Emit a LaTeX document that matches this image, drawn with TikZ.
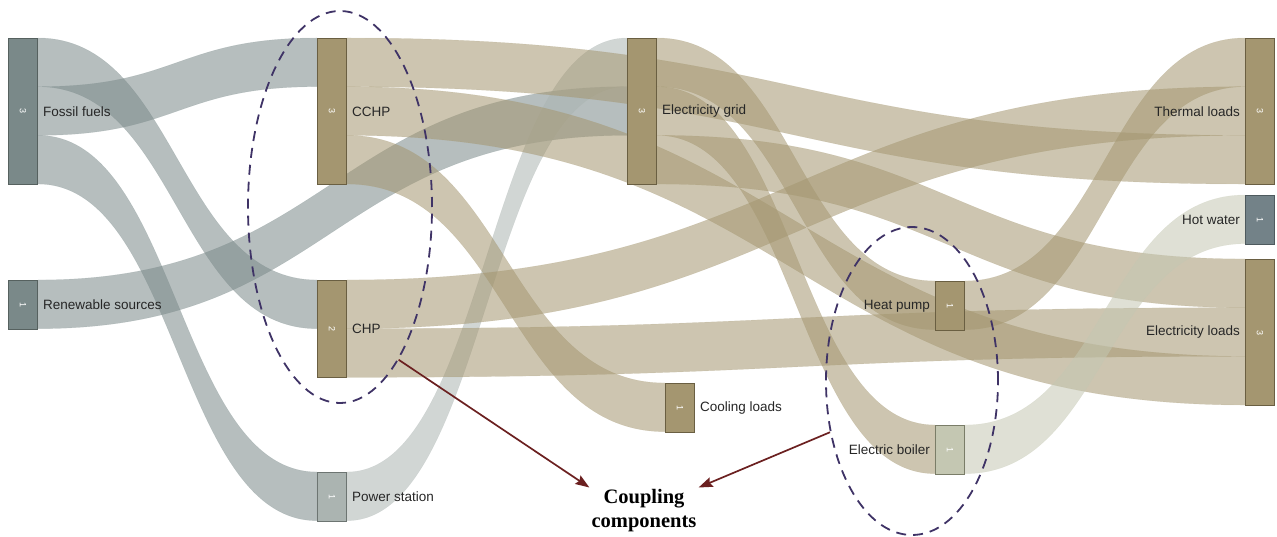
\documentclass[tikz,border=0pt]{standalone}
\usepackage{fontspec}
\setmainfont{Liberation Sans}
\newfontfamily\captionserif{Liberation Serif}
\usetikzlibrary{calc,arrows.meta,shapes.geometric,backgrounds}

\definecolor{fossil}{HTML}{7A8989}
\definecolor{fossilline}{HTML}{56615F}
\definecolor{plant}{HTML}{A49670}
\definecolor{plantline}{HTML}{6A5F42}
\definecolor{station}{HTML}{ABB4B1}
\definecolor{stationline}{HTML}{6D7572}
\definecolor{boiler}{HTML}{C4C7B2}
\definecolor{boilerline}{HTML}{7A7D68}
\definecolor{water}{HTML}{738288}
\definecolor{waterline}{HTML}{4E5A5E}
\definecolor{ringc}{HTML}{3F3366}
\definecolor{arrowc}{HTML}{6B2020}
\definecolor{labelc}{HTML}{262626}

\def\unitw{48.67}

\tikzset{
  bar/.style={rectangle, minimum width=29pt, minimum height=#1*\unitw pt, inner sep=0pt,
    anchor=north west, line width=1pt, text=white, font=\fontsize{9}{9}\selectfont},
  lbl/.style={font=\fontsize{13.5}{16}\selectfont, text=labelc, inner sep=1pt},
  link/.style={fill=#1, fill opacity=0.55, draw=#1, draw opacity=0.25, line width=0.4pt},
  ring/.style={ellipse, draw=ringc, dash pattern=on 10pt off 7pt, line width=1.8pt, inner sep=0pt},
  pointer/.style={draw=arrowc, line width=1.7pt, -{Stealth[length=14pt,width=10pt,inset=2pt]}}
}

% band from slot #2 of node #1 to slot #4 of node #3
\newcommand{\flowband}[5]{%
  \path[#5] let \p1=($(#1.north east)+(0,#2*\unitw)$),
                \p2=($(#3.north west)+(0,#4*\unitw)$),
                \n1={0.5*(\x1+\x2)} in
    (\p1) .. controls (\n1,\y1) and (\n1,\y2) .. (\p2)
    -- (\x2,\y2-\unitw pt) .. controls (\n1,\y2-\unitw pt) and (\n1,\y1-\unitw pt) .. (\x1,\y1-\unitw pt)
    -- cycle;}

\begin{document}
\begin{tikzpicture}[x=1pt, y=-1pt, label distance=4pt]
    \useasboundingbox (0,0) rectangle (1277,537);

    \node[bar=3, fill=fossil, draw=fossilline, label={[lbl]east:Fossil fuels}] (ff) at (8,38) {\rotatebox{-90}{3}};
    \node[bar=1, fill=fossil, draw=fossilline, label={[lbl]east:Renewable sources}] (rs) at (8,280) {\rotatebox{-90}{1}};
    \node[bar=3, fill=plant, draw=plantline, label={[lbl]east:CCHP}] (cchp) at (317,38) {\rotatebox{-90}{3}};
    \node[bar=2, fill=plant, draw=plantline, label={[lbl]east:CHP}] (chp) at (317,280) {\rotatebox{-90}{2}};
    \node[bar=1, fill=station, draw=stationline, label={[lbl]east:Power station}] (ps) at (317,472) {\rotatebox{-90}{1}};
    \node[bar=3, fill=plant, draw=plantline, label={[lbl]east:Electricity grid}] (grid) at (627,38) {\rotatebox{-90}{3}};
    \node[bar=1, fill=plant, draw=plantline, label={[lbl]east:Cooling loads}] (cool) at (665,383) {\rotatebox{-90}{1}};
    \node[bar=1, fill=plant, draw=plantline, label={[lbl]west:Heat pump}] (hp) at (935,281) {\rotatebox{-90}{1}};
    \node[bar=1, fill=boiler, draw=boilerline, label={[lbl]west:Electric boiler}] (eb) at (935,425) {\rotatebox{-90}{1}};
    \node[bar=3, fill=plant, draw=plantline, label={[lbl]west:Thermal loads}] (tl) at (1245,38) {\rotatebox{-90}{3}};
    \node[bar=1, fill=water, draw=waterline, label={[lbl]west:Hot water}] (hw) at (1245,195) {\rotatebox{-90}{1}};
    \node[bar=3, fill=plant, draw=plantline, label={[lbl]west:Electricity loads}] (el) at (1245,259) {\rotatebox{-90}{3}};

    \begin{scope}[on background layer]
        \flowband{ff}{0}{chp}{0}{link=fossil}
        \flowband{ff}{1}{cchp}{0}{link=fossil}
        \flowband{ff}{2}{ps}{0}{link=fossil}
        \flowband{rs}{0}{grid}{1}{link=fossil}
        \flowband{ps}{0}{grid}{0}{link=station}
        \flowband{cchp}{0}{tl}{2}{link=plant}
        \flowband{cchp}{1}{el}{2}{link=plant}
        \flowband{cchp}{2}{cool}{0}{link=plant}
        \flowband{chp}{0}{tl}{1}{link=plant}
        \flowband{chp}{1}{el}{1}{link=plant}
        \flowband{grid}{0}{hp}{0}{link=plant}
        \flowband{grid}{1}{eb}{0}{link=plant}
        \flowband{grid}{2}{el}{0}{link=plant}
        \flowband{hp}{0}{tl}{0}{link=plant}
        \flowband{eb}{0}{hw}{0}{link=boiler}
    \end{scope}

    \node[ring, minimum width=184pt, minimum height=392pt] (ring1) at (340,207) {};
    \node[ring, minimum width=172pt, minimum height=308pt] (ring2) at (912,381) {};

    \node[font=\captionserif\bfseries\fontsize{20.5}{24}\selectfont, align=center, inner sep=2pt] (coupling) at (644,511) {Coupling\\components};
    \draw[pointer] (ring1.-69.5) -- (coupling.north west);
    \draw[pointer] (ring2.212.5) -- (coupling.north east);
\end{tikzpicture}
\end{document}
